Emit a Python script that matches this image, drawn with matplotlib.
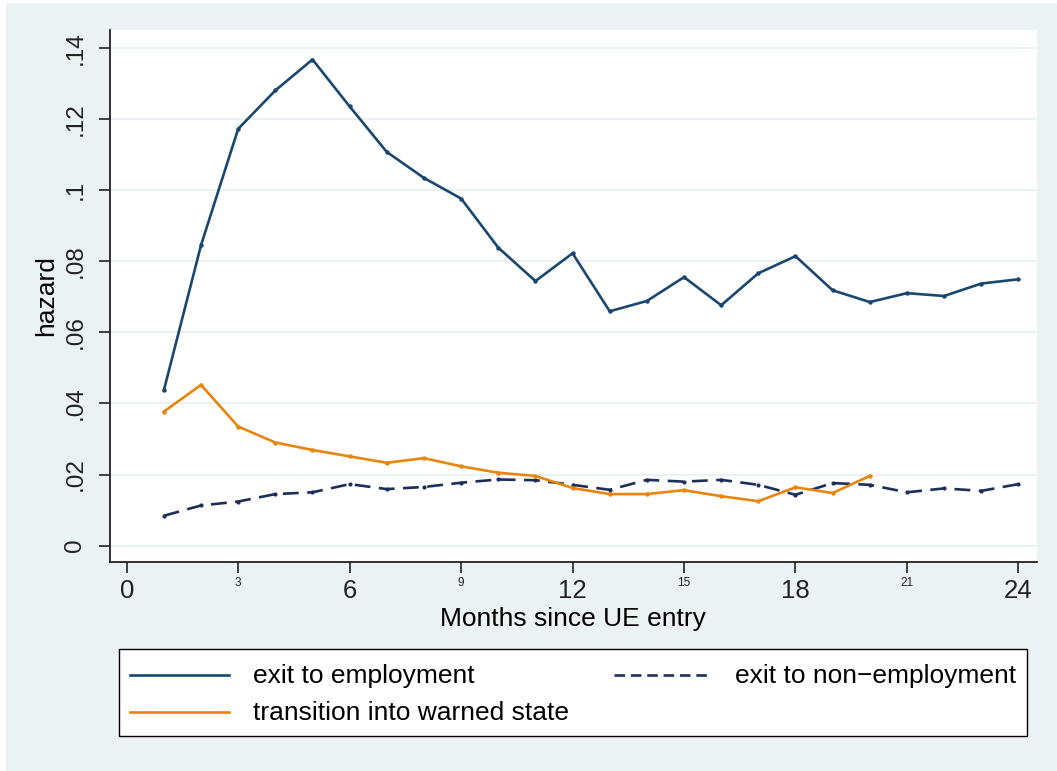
import matplotlib
matplotlib.use("Agg")
import matplotlib.pyplot as plt
from matplotlib.patches import Rectangle
from matplotlib.lines import Line2D
from matplotlib.ticker import FixedLocator

plt.rcParams['font.family'] = ['Liberation Sans', 'DejaVu Sans']

# ---- data ----
months = list(range(1, 25))
exit_emp = [0.0437, 0.0845, 0.1172, 0.1280, 0.1367, 0.1235, 0.1107, 0.1034, 0.0976,
            0.0838, 0.0744, 0.0822, 0.0659, 0.0688, 0.0755, 0.0676, 0.0766, 0.0814,
            0.0718, 0.0685, 0.0710, 0.0702, 0.0737, 0.0749]
exit_nonemp = [0.0084, 0.0113, 0.0124, 0.0145, 0.0150, 0.0173, 0.0159, 0.0165, 0.0177,
               0.0186, 0.0184, 0.0171, 0.0157, 0.0185, 0.0180, 0.0185, 0.0171, 0.0143,
               0.0176, 0.0171, 0.0150, 0.0161, 0.0154, 0.0173]
months_warn = list(range(1, 21))
warned = [0.0377, 0.0452, 0.0335, 0.0290, 0.0269, 0.0251, 0.0233, 0.0246, 0.0223,
          0.0205, 0.0196, 0.0162, 0.0145, 0.0145, 0.0156, 0.0139, 0.0125, 0.0164,
          0.0148, 0.0196]

yticks = [0, 0.02, 0.04, 0.06, 0.08, 0.10, 0.12, 0.14]
ylabels = ["0", ".02", ".04", ".06", ".08", ".1", ".12", ".14"]
xmajor = [0, 6, 12, 18, 24]
xminor = [3, 9, 15, 21]

BG = "#EAF2F3"
NAVY = "#1a476f"
DKNAVY = "#1c2e5a"
ORANGE = "#e8850c"

W, H = 1057, 771
fig = plt.figure(figsize=(W / 100, H / 100), dpi=100)
fig.patch.set_facecolor("white")
fig.add_artist(Rectangle((6 / W, 0), 1 - 6 / W, (H - 3) / H, transform=fig.transFigure,
                         facecolor=BG, edgecolor="none", zorder=-10))

ax = fig.add_axes([110 / W, 1 - 562 / H, (1037 - 110) / W, (562 - 30) / H])
ax.set_facecolor("white")

ax.plot(months, exit_emp, color=NAVY, lw=1.9, marker='o', ms=2.2, zorder=3)
ax.plot(months, exit_nonemp, color=DKNAVY, lw=1.9, ls=(0, (6, 3.2)), marker='o', ms=2.0, zorder=3)
ax.plot(months_warn, warned, color=ORANGE, lw=1.9, marker='o', ms=2.2, zorder=3)

ax.set_xlim(-0.45, 24.5)
ax.set_ylim(-0.0046, 0.145)

ax.set_yticks(yticks, ylabels)
plt.setp(ax.get_yticklabels(), rotation=90, va='center')
ax.set_xticks(xmajor)
ax.xaxis.set_minor_locator(FixedLocator(xminor))
ax.set_xticklabels([str(v) for v in xmajor])
ax.set_xticks(xminor, [str(v) for v in xminor], minor=True)

ax.tick_params(axis='y', length=8, width=1.2, labelsize=17.5, pad=9, colors='#222222')
ax.tick_params(axis='x', which='major', length=8, width=1.2, labelsize=18.5, pad=4, colors='#222222')
ax.tick_params(axis='x', which='minor', length=8, width=1.2, labelsize=8.5, pad=3, colors='#222222')

for s in ['top', 'right']:
    ax.spines[s].set_visible(False)
for s in ['left', 'bottom']:
    ax.spines[s].set_linewidth(1.3)
    ax.spines[s].set_color('#222222')

ax.grid(axis='y', color=BG, lw=1.5, zorder=0)
ax.set_axisbelow(True)

ax.set_ylabel("hazard", fontsize=19)
ax.yaxis.set_label_coords((58 - 110) / 927, 0.5)
fig.text(573 / W, 1 - 626 / H, "Months since UE entry", fontsize=19, ha='center', va='baseline')

# ---- legend box ----
fig.add_artist(Rectangle((119 / W, 1 - 736 / H), (1027 - 119) / W, (736 - 649) / H,
                         transform=fig.transFigure, facecolor='white', edgecolor='black', lw=1.0))
entries = [
    (130, 229, 675, 253, 683, NAVY, '-', "exit to employment"),
    (614, 711, 675, 735, 683, DKNAVY, (0, (4, 2.2)), "exit to non\u2212employment"),
    (130, 229, 712, 253, 720, ORANGE, '-', "transition into warned state"),
]
for x0, x1, ly, tx, ty, col, ls, lab in entries:
    fig.add_artist(Line2D([x0 / W, x1 / W], [1 - ly / H, 1 - ly / H], transform=fig.transFigure,
                          color=col, lw=1.9, ls=ls))
    fig.text(tx / W, 1 - ty / H, lab, fontsize=19, ha='left', va='baseline')

fig.savefig("out.png", dpi=100)
